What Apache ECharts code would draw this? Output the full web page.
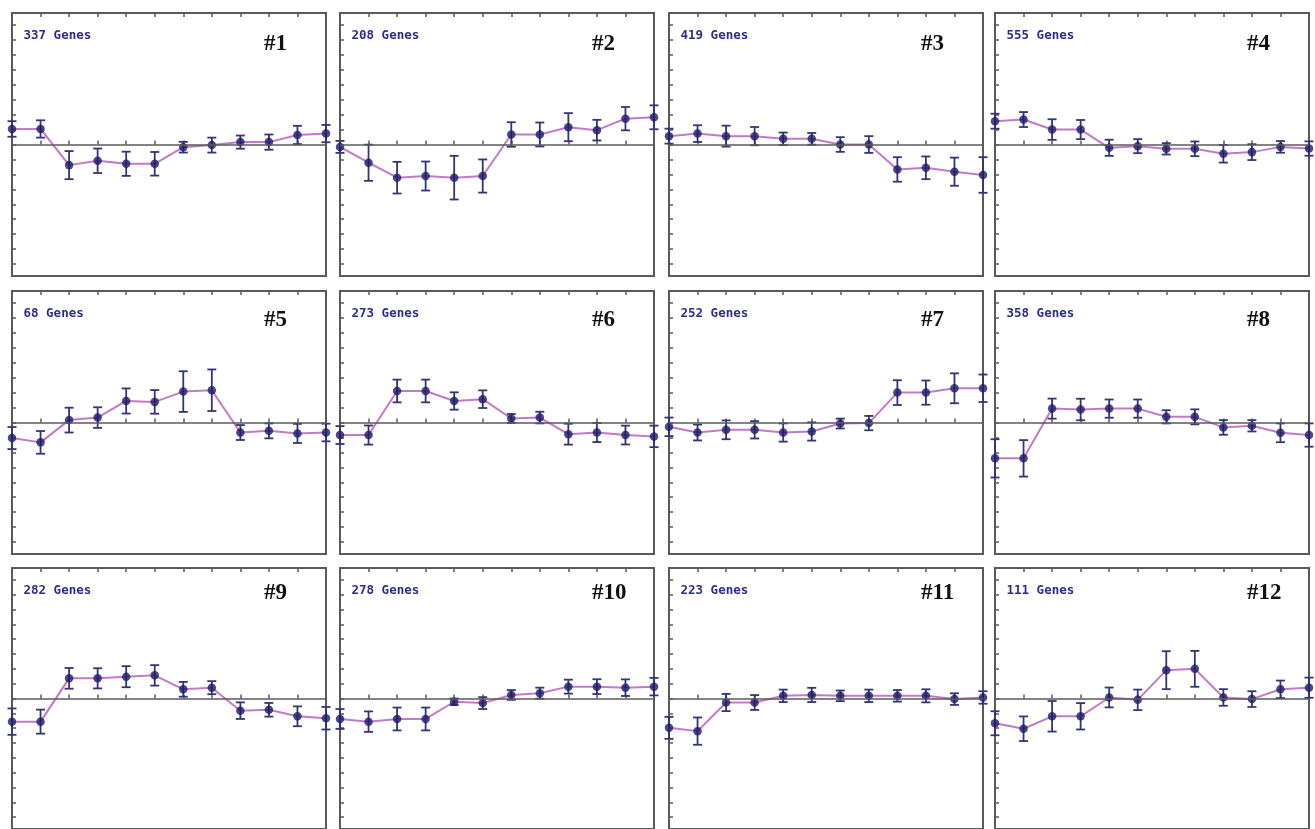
<!DOCTYPE html>
<html>
<head>
<meta charset="utf-8">
<script src="https://cdn.jsdelivr.net/npm/echarts@6/dist/echarts.min.js"></script>
<style>
  html, body { margin: 0; padding: 0; background: #ffffff; }
  #chart { width: 1315px; height: 829px; }
</style>
</head>
<body>
<div id="chart"></div>
<script>
// Twelve expression clusters: mean profile across 12 samples with error bars.
const samples = ['S1','S2','S3','S4','S5','S6','S7','S8','S9','S10','S11','S12'];
const clusterLabels = ['#1','#2','#3','#4','#5','#6','#7','#8','#9','#10','#11','#12'];
const geneCounts = [337, 208, 419, 555, 68, 273, 252, 358, 282, 278, 223, 111];
const yTicks = [-8,-7,-6,-5,-4,-3,-2,-1,0,1,2,3,4,5,6,7,8];

const mean1  = [1.04, 1.04, -1.38, -1.09, -1.29, -1.29, -0.18, -0.04, 0.16, 0.16, 0.64, 0.73];
const err1   = [0.52, 0.58, 0.94, 0.82, 0.81, 0.79, 0.36, 0.50, 0.44, 0.51, 0.61, 0.58];
const mean2  = [-0.16, -1.22, -2.22, -2.11, -2.22, -2.11, 0.67, 0.67, 1.16, 0.96, 1.73, 1.82];
const err2   = [0.40, 1.21, 1.06, 0.97, 1.46, 1.11, 0.82, 0.80, 0.94, 0.69, 0.78, 0.80];
const mean3  = [0.56, 0.73, 0.56, 0.56, 0.38, 0.38, 0.00, 0.00, -1.67, -1.56, -1.82, -2.04];
const err3   = [0.50, 0.56, 0.70, 0.61, 0.42, 0.39, 0.49, 0.56, 0.82, 0.76, 0.94, 1.19];
const mean4  = [1.56, 1.67, 1.00, 1.00, -0.22, -0.11, -0.29, -0.29, -0.62, -0.51, -0.16, -0.27];
const err4   = [0.50, 0.50, 0.69, 0.64, 0.54, 0.47, 0.38, 0.49, 0.59, 0.53, 0.39, 0.48];
const mean5  = [-1.04, -1.33, 0.16, 0.33, 1.44, 1.38, 2.07, 2.16, -0.67, -0.56, -0.73, -0.67];
const err5   = [0.74, 0.76, 0.83, 0.69, 0.84, 0.79, 1.36, 1.39, 0.50, 0.50, 0.64, 0.59];
const mean6  = [-0.84, -0.84, 2.11, 2.11, 1.44, 1.56, 0.27, 0.33, -0.78, -0.67, -0.84, -0.93];
const err6   = [0.60, 0.64, 0.76, 0.76, 0.58, 0.59, 0.30, 0.39, 0.70, 0.64, 0.63, 0.72];
const mean7  = [-0.29, -0.67, -0.49, -0.49, -0.67, -0.60, -0.07, -0.04, 2.00, 2.00, 2.29, 2.29];
const err7   = [0.62, 0.53, 0.63, 0.58, 0.61, 0.61, 0.33, 0.48, 0.83, 0.81, 1.00, 0.92];
const mean8  = [-2.40, -2.40, 0.93, 0.87, 0.93, 0.93, 0.38, 0.38, -0.33, -0.22, -0.69, -0.84];
const err8   = [1.28, 1.22, 0.67, 0.72, 0.61, 0.61, 0.44, 0.50, 0.49, 0.38, 0.63, 0.78];
const mean9  = [-1.56, -1.56, 1.36, 1.36, 1.47, 1.56, 0.62, 0.73, -0.82, -0.76, -1.20, -1.33];
const err9   = [0.89, 0.81, 0.70, 0.68, 0.71, 0.69, 0.50, 0.44, 0.56, 0.46, 0.67, 0.76];
const mean10 = [-1.38, -1.56, -1.38, -1.38, -0.22, -0.31, 0.24, 0.36, 0.80, 0.80, 0.73, 0.80];
const err10  = [0.67, 0.69, 0.77, 0.77, 0.22, 0.40, 0.33, 0.37, 0.47, 0.50, 0.56, 0.59];
const mean11 = [-1.98, -2.20, -0.27, -0.27, 0.18, 0.24, 0.18, 0.18, 0.18, 0.18, -0.04, 0.07];
const err11  = [0.74, 0.92, 0.58, 0.50, 0.42, 0.48, 0.36, 0.42, 0.39, 0.44, 0.39, 0.42];
const mean12 = [-1.67, -2.04, -1.20, -1.20, 0.07, -0.09, 1.91, 2.00, 0.07, -0.04, 0.62, 0.73];
const err12  = [0.81, 0.83, 1.03, 0.89, 0.67, 0.69, 1.28, 1.21, 0.56, 0.53, 0.59, 0.68];

const means = [mean1, mean2, mean3, mean4, mean5, mean6, mean7, mean8, mean9, mean10, mean11, mean12];
const errs  = [err1, err2, err3, err4, err5, err6, err7, err8, err9, err10, err11, err12];

// Panel layout (pixels)
const panelLefts = [12, 340, 669, 995];
const panelTops = [13, 291, 568];
const panelW = 314, panelH = 263;
const numberOffsetY = [31.5, 29, 25];

const frameColor = '#5a5a5a';
const lineColor = '#c27ac6';
const markerColor = '#1c1c6a';
const barColor = '#343478';
const textBlue = '#2c2c92';

function renderErrorBar(params, api) {
  const idx = api.value(0);
  const lo = api.coord([idx, api.value(1)]);
  const hi = api.coord([idx, api.value(2)]);
  const half = 4.5;
  const style = { stroke: barColor, lineWidth: 1.8 };
  return {
    type: 'group',
    children: [
      { type: 'line', shape: { x1: hi[0], y1: hi[1], x2: lo[0], y2: lo[1] }, style: style },
      { type: 'line', shape: { x1: hi[0] - half, y1: hi[1], x2: hi[0] + half, y2: hi[1] }, style: style },
      { type: 'line', shape: { x1: lo[0] - half, y1: lo[1], x2: lo[0] + half, y2: lo[1] }, style: style }
    ]
  };
}

const grid = [], xAxis = [], yAxis = [], series = [], graphic = [];

for (let i = 0; i < 12; i++) {
  const col = i % 4, row = Math.floor(i / 4);
  const left = panelLefts[col], top = panelTops[row];
  grid.push({
    left: left, top: top, width: panelW, height: panelH,
    show: true, borderColor: frameColor, borderWidth: 2, backgroundColor: 'transparent'
  });
  const tickStyle = { color: frameColor, width: 1.5 };
  ['bottom', 'top'].forEach(function (pos) {
    xAxis.push({
      gridIndex: i, type: 'category', data: samples, boundaryGap: false, position: pos,
      axisLine: { show: false },
      axisTick: { show: true, inside: true, length: 4, interval: 0, lineStyle: tickStyle },
      axisLabel: { show: false }, splitLine: { show: false }
    });
  });
  yAxis.push({
    gridIndex: i, type: 'value', min: -8.8, max: 8.8,
    axisLine: { show: false },
    axisTick: { show: true, inside: true, length: 4, customValues: yTicks, lineStyle: tickStyle },
    axisLabel: { show: false, customValues: yTicks }, splitLine: { show: false }
  });

  const m = means[i], e = errs[i];
  const linePts = m.map(function (v, k) { return [k, v]; });
  const barPts = m.map(function (v, k) { return [k, v - e[k], v + e[k]]; });

  series.push({
    type: 'line', xAxisIndex: i * 2, yAxisIndex: i, data: linePts,
    showSymbol: false, clip: false, silent: true, z: 2,
    lineStyle: { color: lineColor, width: 2 },
    markLine: {
      silent: true, symbol: 'none', label: { show: false }, animation: false,
      lineStyle: { color: frameColor, width: 1.6, type: 'solid' },
      data: [{ yAxis: 0 }]
    }
  });
  series.push({
    type: 'custom', xAxisIndex: i * 2, yAxisIndex: i, data: barPts,
    renderItem: renderErrorBar, clip: false, silent: true, z: 3,
    encode: { x: 0, y: [1, 2] }
  });
  series.push({
    type: 'scatter', xAxisIndex: i * 2, yAxisIndex: i, data: linePts,
    symbol: 'circle', symbolSize: 8.5, clip: false, silent: true, z: 4,
    itemStyle: { color: markerColor }
  });

  graphic.push({
    type: 'text', x: left + 11.5, y: top + 23, silent: true,
    style: {
      text: geneCounts[i] + ' Genes', fill: textBlue,
      font: 'bold 12.5px "DejaVu Sans Mono", monospace',
      textAlign: 'left', textVerticalAlign: 'middle'
    }
  });
  graphic.push({
    type: 'text', x: left + 252, y: top + numberOffsetY[row], silent: true,
    style: {
      text: clusterLabels[i], fill: '#111111',
      font: 'bold 23px "Liberation Serif", "Times New Roman", serif',
      textAlign: 'left', textVerticalAlign: 'middle'
    }
  });
}

const chart = echarts.init(document.getElementById('chart'), null, { renderer: 'canvas' });
chart.setOption({
  backgroundColor: '#ffffff',
  animation: false,
  grid: grid, xAxis: xAxis, yAxis: yAxis, series: series, graphic: graphic
});
</script>
</body>
</html>
